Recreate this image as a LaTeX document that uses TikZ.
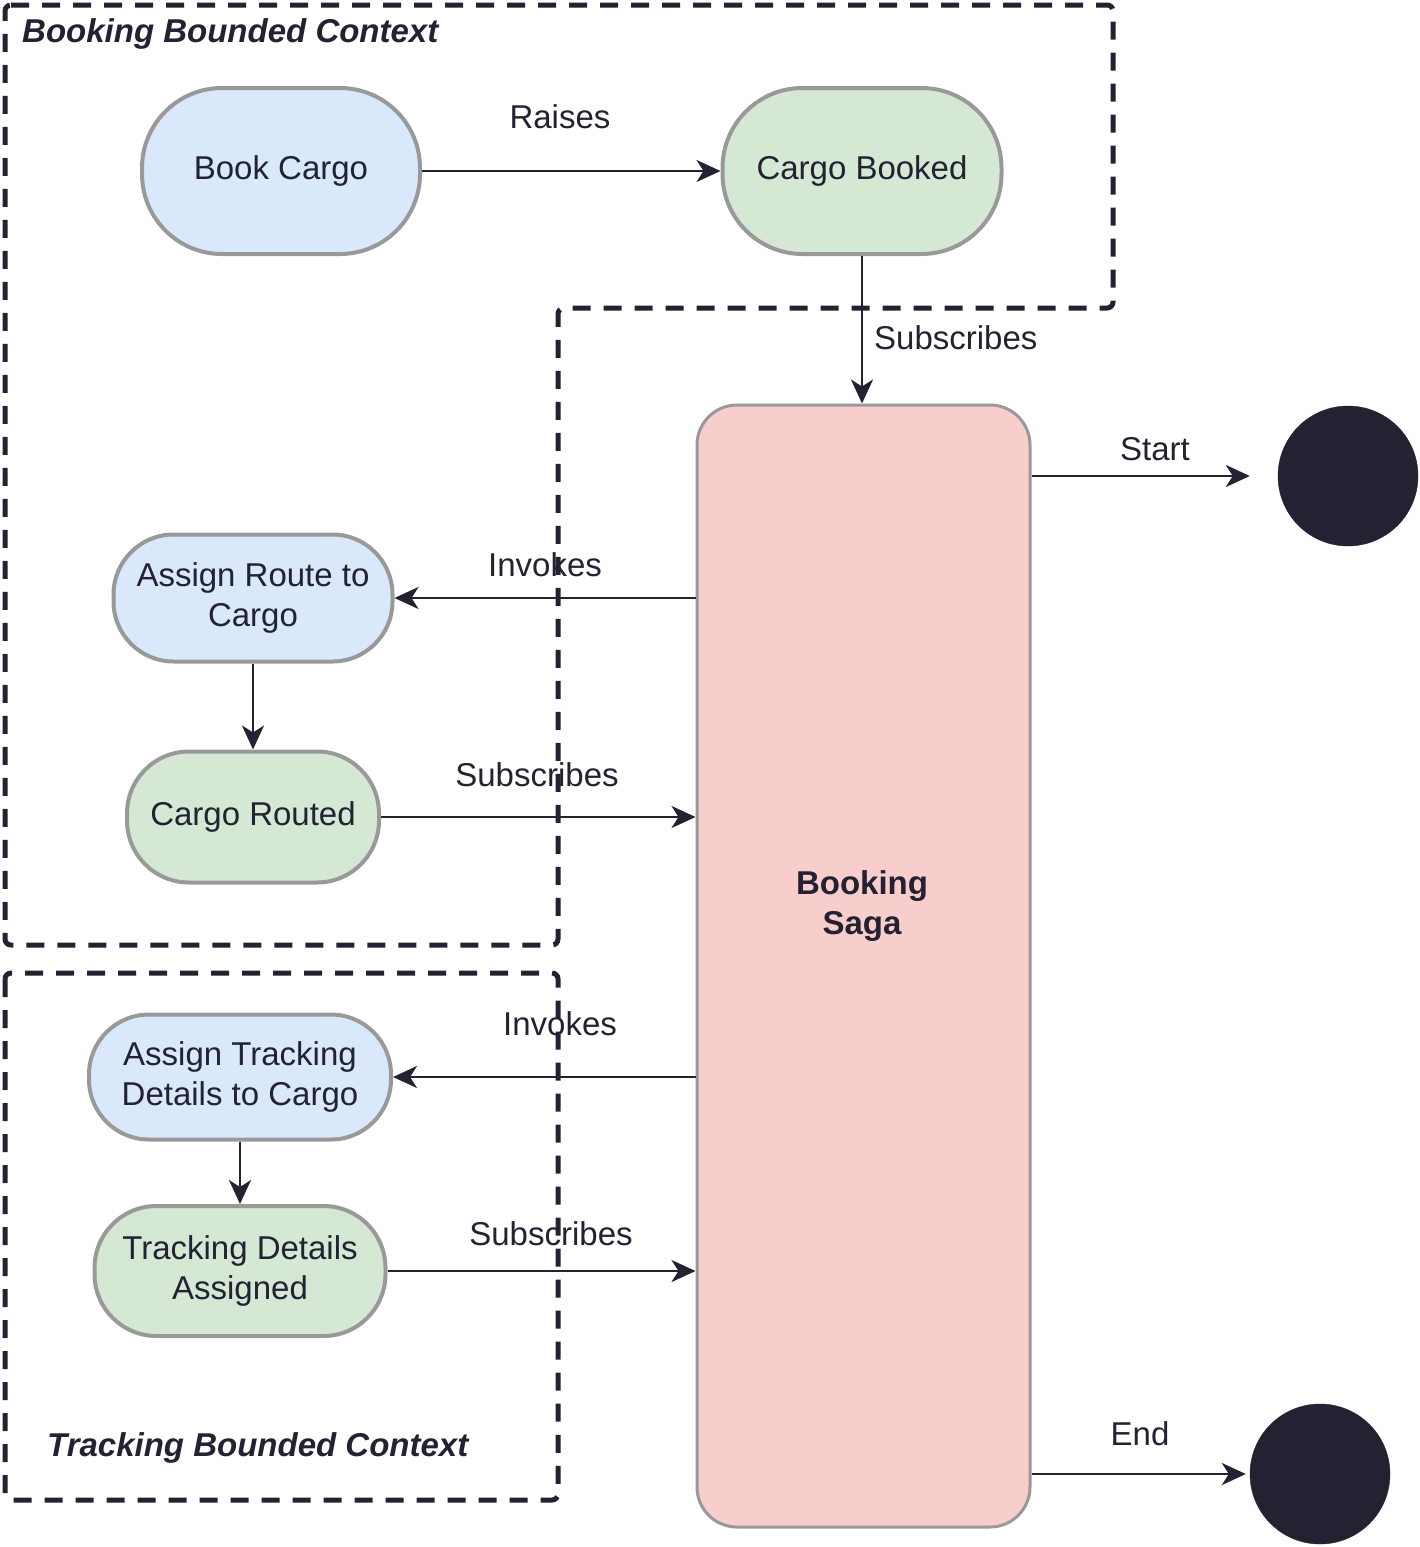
\documentclass[tikz,border=0pt]{standalone}
\usepackage{fontspec}
\setmainfont{Liberation Sans}
\usetikzlibrary{arrows.meta}
\definecolor{ink}{HTML}{222233}
\definecolor{bluefill}{HTML}{DAE8FC}
\definecolor{greenfill}{HTML}{D5E8D4}
\definecolor{pinkfill}{HTML}{F8CECC}
\definecolor{graystroke}{HTML}{999999}
\tikzset{
  ctx/.style={draw=ink, line width=5pt, dash pattern=on 18pt off 13pt, rounded corners=6pt},
  ctxtitle/.style={font=\fontsize{33}{40}\selectfont\bfseries\itshape, text=ink, anchor=west, inner sep=0pt},
  pill/.style={draw=graystroke, line width=4pt, align=center, inner sep=0pt, text=ink, font=\fontsize{33}{40}\selectfont},
  cmd/.style={pill, fill=bluefill},
  evt/.style={pill, fill=greenfill},
  conn/.style={draw=ink, line width=2.5pt, -{Stealth[length=24pt,width=22pt,inset=7pt]}},
  lbl/.style={text=ink, font=\fontsize{33}{40}\selectfont, inner sep=0pt},
  endpt/.style={circle, fill=ink, draw=ink, minimum size=140pt, inner sep=0pt}
}
\begin{document}
\begin{tikzpicture}[x=1pt,y=-1pt]
\useasboundingbox (0,0) rectangle (1420,1547);
% contexts
\draw[ctx] (5,5) -- (1113,5) -- (1113,308) -- (558,308) -- (558,945) -- (5,945) -- cycle;
\draw[ctx] (5,973) rectangle (558,1500);
\node[ctxtitle] (bbc) at (22,34) {Booking Bounded Context};
\node[ctxtitle] (tbc) at (47,1448) {Tracking Bounded Context};
% nodes
\node[cmd, minimum width=278pt, minimum height=166pt, rounded corners=80pt] (bc) at (281,171) {Book Cargo};
\node[evt, minimum width=279pt, minimum height=166pt, rounded corners=80pt] (cb) at (862,171) {Cargo Booked};
\node[draw=graystroke, line width=3pt, fill=pinkfill, rounded corners=40pt, minimum width=333pt, minimum height=1122pt, inner sep=0pt] (saga) at (863.5,966) {};
\node[align=center, text=ink, inner sep=0pt, font=\fontsize{33}{40}\selectfont\bfseries] (sagatext) at (862,906) {Booking\\Saga};
\node[cmd, minimum width=279pt, minimum height=127pt, rounded corners=60pt] (ar) at (253,598) {Assign Route to\\Cargo};
\node[evt, minimum width=252pt, minimum height=131pt, rounded corners=62pt] (cr) at (253,817) {Cargo Routed};
\node[cmd, minimum width=302pt, minimum height=125pt, rounded corners=60pt] (at) at (240,1077) {Assign Tracking\\Details to Cargo};
\node[evt, minimum width=291pt, minimum height=130pt, rounded corners=62pt] (td) at (240,1271) {Tracking Details\\Assigned};
\node[endpt] (st) at (1348,476) {};
\node[endpt] (en) at (1320,1474) {};
% connectors
\draw[conn] (bc.east) -- (cb.west);
\node[lbl] (l1) at (560,117) {Raises};
\draw[conn] (cb.south) -- (cb.south |- saga.north);
\node[lbl, anchor=west] (l2) at (874,338) {Subscribes};
\draw[conn, shorten >=28pt] (saga.east |- st.west) -- (st.west);
\node[lbl] (l3) at (1155,449) {Start};
\draw[conn] (ar.east -| saga.west) -- (ar.east);
\node[lbl] (l4) at (545,565) {Invokes};
\draw[conn] (ar.south) -- (cr.north);
\draw[conn] (cr.east) -- (cr.east -| saga.west);
\node[lbl] (l5) at (537,775) {Subscribes};
\draw[conn] (at.east -| saga.west) -- (at.east);
\node[lbl] (l6) at (560,1024) {Invokes};
\draw[conn] (at.south) -- (td.north);
\draw[conn] (td.east) -- (td.east -| saga.west);
\node[lbl] (l7) at (551,1234) {Subscribes};
\draw[conn, shorten >=4pt] (saga.east |- en.west) -- (en.west);
\node[lbl] (l8) at (1140,1434) {End};
\end{tikzpicture}
\end{document}
